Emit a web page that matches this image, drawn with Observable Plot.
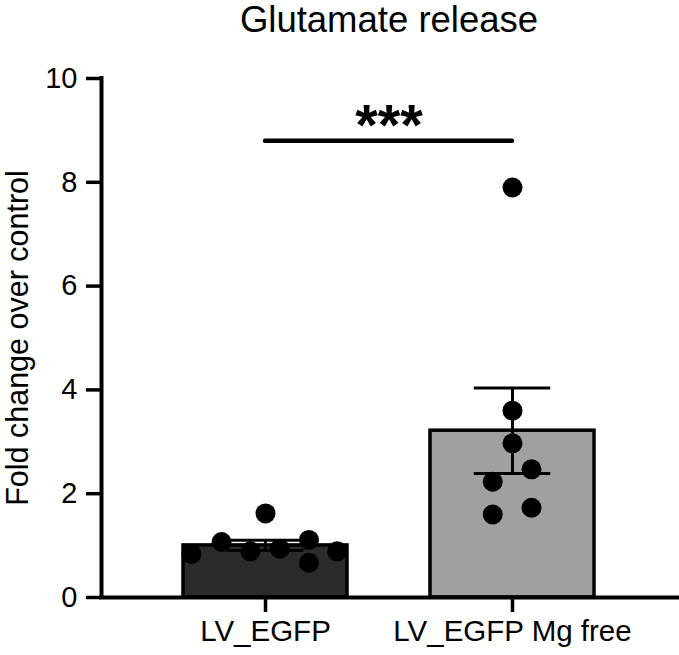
<!DOCTYPE html>
<html>
<head>
<meta charset="utf-8">
<script src="https://cdn.jsdelivr.net/npm/d3@7"></script>
<script src="https://cdn.jsdelivr.net/npm/@observablehq/plot@0.6"></script>
<style>
  html, body { margin: 0; padding: 0; background: #fff; }
  svg { font-family: "Liberation Sans", Arial, Helvetica, sans-serif; }
</style>
</head>
<body>
<div id="chart"></div>
<script>
const title = "Glutamate release";
const yLabel = "Fold change over control";
const groups = ["LV_EGFP", "LV_EGFP Mg free"];
const barColors = ["#2b2b2b", "#a0a0a0"];
const yTicks = [0, 2, 4, 6, 8, 10];
// individual replicate values per group
const valuesEGFP = [0.84, 1.07, 0.89, 1.62, 0.94, 1.11, 0.67, 0.89];
const valuesMgFree = [7.9, 3.6, 2.97, 2.47, 2.23, 1.6, 1.73];
// horizontal scatter offsets (fraction of group spacing)
const jitterEGFP = [-0.3, -0.178, -0.061, 0, 0.058, 0.176, 0.176, 0.29];
const jitterMgFree = [0, 0, 0, 0.077, -0.08, -0.08, 0.077];
const significance = { label: "***", y: 8.8, from: 0, to: 1 };

const groupValues = [valuesEGFP, valuesMgFree];
const groupJitter = [jitterEGFP, jitterMgFree];

const points = [];
groupValues.forEach((vals, g) => vals.forEach((v, k) => points.push({ g, v, jit: groupJitter[g][k] })));

const summary = groupValues.map((vals, i) => {
  const mean = d3.mean(vals);
  const sem = d3.deviation(vals) / Math.sqrt(vals.length);
  return { i, mean, sem, fill: barColors[i] };
});

const xDomain = [-0.664, 1.668];
const barHalf = 0.332;
const capHalf = 0.155;

const chart = Plot.plot({
  width: 679,
  height: 655,
  marginLeft: 101,
  marginRight: 2,
  marginTop: 78,
  marginBottom: 58,
  style: { fontFamily: '"Liberation Sans", Arial, Helvetica, sans-serif', background: "#fff" },
  x: { type: "linear", domain: xDomain, axis: null },
  y: { domain: [0, 10], axis: null },
  marks: [
    Plot.rectY(summary, {
      x1: d => d.i - barHalf, x2: d => d.i + barHalf, y1: 0, y2: "mean",
      fill: "fill", stroke: "#000", strokeWidth: 3.5
    }),
    Plot.ruleX(summary, { x: "i", y1: d => d.mean - d.sem, y2: d => d.mean + d.sem, stroke: "#000", strokeWidth: 3 }),
    Plot.ruleY(summary, { y: d => d.mean + d.sem, x1: d => d.i - capHalf, x2: d => d.i + capHalf, stroke: "#000", strokeWidth: 3 }),
    Plot.ruleY(summary, { y: d => d.mean - d.sem, x1: d => d.i - capHalf, x2: d => d.i + capHalf, stroke: "#000", strokeWidth: 3 }),
    Plot.dot(points, { x: d => d.g + d.jit, y: "v", r: 10, fill: "#000", stroke: "none" }),
    // axes
    Plot.ruleY([0], { stroke: "#000", strokeWidth: 4, strokeLinecap: "square" }),
    Plot.ruleX([xDomain[0]], { y1: 0, y2: 10, stroke: "#000", strokeWidth: 4, strokeLinecap: "square" }),
    Plot.axisY({ ticks: yTicks, tickSize: 15, tickPadding: 9, fontSize: 29, strokeWidth: 3.5, anchor: "left", label: null }),
    Plot.axisX({ ticks: [0, 1], tickFormat: i => groups[i], tickSize: 15, tickPadding: 8, fontSize: 29.5, strokeWidth: 3.5, anchor: "bottom", label: null }),
    // significance
    Plot.ruleY([significance], { y: "y", x1: "from", x2: "to", stroke: "#000", strokeWidth: 4.5, strokeLinecap: "round" }),
    Plot.text([significance], { x: d => (d.from + d.to) / 2, y: "y", text: "label", dy: -14, fontSize: 58, fontWeight: "bold", fill: "#000" }),
    // title and y label
    Plot.text([title], { x: 0.5, frameAnchor: "top", dy: -72, text: d => d, fontSize: 36.5, fill: "#000" }),
    Plot.text([yLabel], { frameAnchor: "left", textAnchor: "middle", dx: -83, rotate: -90, text: d => d, fontSize: 30.5, fill: "#000" })
  ]
});
document.getElementById("chart").appendChild(chart);
</script>
</body>
</html>
